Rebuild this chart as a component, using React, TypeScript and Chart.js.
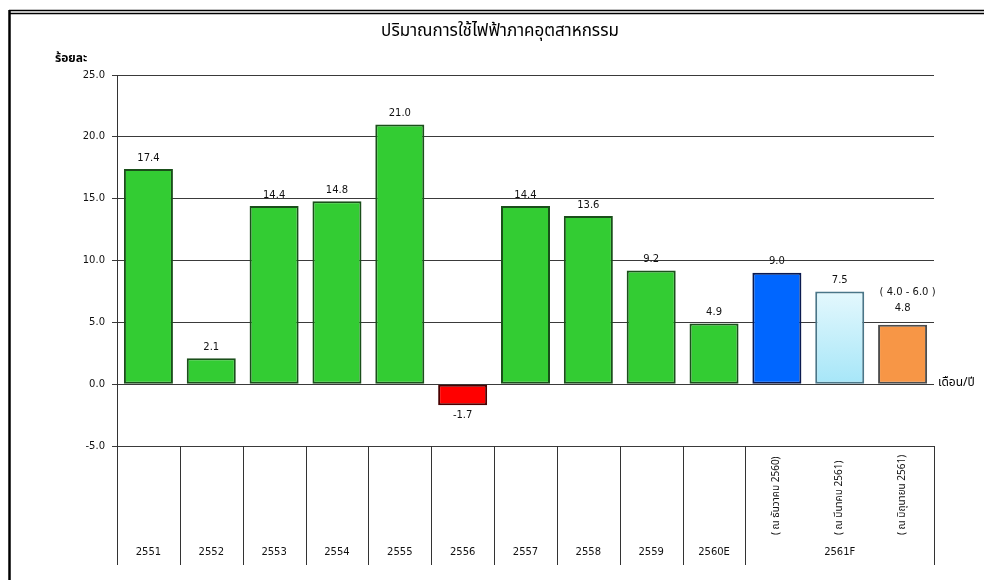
import React, { useEffect, useRef } from "react";
import { Chart, registerables } from "chart.js";

Chart.register(...registerables);

const titleText = "ปริมาณการใช้ไฟฟ้าภาคอุตสาหกรรม";
const yAxisTitle = "ร้อยละ";
const xAxisTitle = "เดือน/ปี";

const years = ["2551", "2552", "2553", "2554", "2555", "2556", "2557", "2558", "2559", "2560E", "2561F", "2561F", "2561F"];
const subLabels = ["", "", "", "", "", "", "", "", "", "", "( ณ ธันวาคม 2560)", "( ณ มีนาคม 2561)", "( ณ มิถุนายน 2561)"];
const values = [17.4, 2.1, 14.4, 14.8, 21.0, -1.7, 14.4, 13.6, 9.2, 4.9, 9.0, 7.5, 4.8];
const rangeNotes = ["", "", "", "", "", "", "", "", "", "", "", "", "( 4.0 - 6.0 )"];

const yMin = -5;
const yMax = 25;
const yStep = 5;

const GREEN = "#33CC33";
const fills = [GREEN, GREEN, GREEN, GREEN, GREEN, "#FF0000", GREEN, GREEN, GREEN, GREEN, "#0066FF", "cyanGradient", "#F79646"];
const GB = "#1a4f1a";
const borders = [GB, GB, GB, GB, GB, "#4a0000", GB, GB, GB, GB, "#0a1a50", "#4a7688", "#4d4d4d"];

const FONT = "'DejaVu Sans', Verdana, sans-serif";
const THAI_FONT = "Tahoma, 'Noto Sans Thai', 'Noto Sans', 'DejaVu Sans', sans-serif";

const decorPlugin = {
  id: "decor",
  afterDatasetsDraw(chart: any) {
    const ctx = chart.ctx;
    const meta = chart.getDatasetMeta(0);
    ctx.save();
    ctx.fillStyle = "#111";
    ctx.font = `10px ${FONT}`;
    ctx.textAlign = "center";
    ctx.textBaseline = "middle";
    meta.data.forEach((bar: any, i: number) => {
      const v = values[i];
      const txt = v.toFixed(1);
      if (v >= 0) {
        if (rangeNotes[i]) {
          ctx.fillText(txt, bar.x, bar.y - 16);
          ctx.fillText(rangeNotes[i], bar.x + 5, bar.y - 32);
        } else {
          ctx.fillText(txt, bar.x, bar.y - 11);
        }
      } else {
        ctx.fillText(txt, bar.x, bar.y + 10);
      }
    });
    ctx.restore();
  },
  afterDraw(chart: any) {
    const ctx = chart.ctx;
    const area = chart.chartArea;
    const xs = chart.scales.x;
    const n = years.length;
    const colW = (area.right - area.left) / n;
    const tableBottom = 565;
    ctx.save();

    // outer frame
    ctx.strokeStyle = "#000";
    ctx.lineWidth = 1.5;
    ctx.beginPath();
    ctx.moveTo(9, 10.5);
    ctx.lineTo(984, 10.5);
    ctx.moveTo(9, 13.5);
    ctx.lineTo(984, 13.5);
    ctx.stroke();
    ctx.lineWidth = 2.5;
    ctx.beginPath();
    ctx.moveTo(9.5, 10);
    ctx.lineTo(9.5, 580);
    ctx.stroke();

    // title
    ctx.fillStyle = "#000";
    ctx.font = `17px ${THAI_FONT}`;
    ctx.textAlign = "center";
    ctx.textBaseline = "middle";
    ctx.fillText(titleText, 500, 33);

    ctx.font = `bold 12px ${THAI_FONT}`;
    ctx.textAlign = "left";
    ctx.fillText(yAxisTitle, 55, 60);
    ctx.font = `12px ${THAI_FONT}`;
    ctx.fillText(xAxisTitle, 938, area.bottom - 62);

    // table lines
    ctx.strokeStyle = "#333";
    ctx.lineWidth = 1;
    ctx.beginPath();
    ctx.moveTo(Math.round(area.left) + 0.5, area.bottom);
    ctx.lineTo(Math.round(area.left) + 0.5, tableBottom);
    for (let i = 1; i <= n; i++) {
      if (i < n && years[i] === years[i - 1]) continue;
      const x = Math.round(xs.getPixelForValue(i - 1) + colW / 2) + 0.5;
      ctx.moveTo(x, area.bottom);
      ctx.lineTo(x, tableBottom);
    }
    ctx.stroke();

    // year labels (merged groups)
    ctx.fillStyle = "#111";
    ctx.font = `10px ${FONT}`;
    ctx.textAlign = "center";
    ctx.textBaseline = "middle";
    let start = 0;
    for (let i = 1; i <= n; i++) {
      if (i < n && years[i] === years[start]) continue;
      const x0 = xs.getPixelForValue(start) - colW / 2;
      const x1 = xs.getPixelForValue(i - 1) + colW / 2;
      ctx.fillText(years[start], (x0 + x1) / 2, 552);
      start = i;
    }

    // rotated sub labels
    ctx.font = `10px ${THAI_FONT}`;
    ctx.textAlign = "left";
    subLabels.forEach((s, i) => {
      if (!s) return;
      ctx.save();
      ctx.translate(xs.getPixelForValue(i), 535);
      ctx.rotate(-Math.PI / 2);
      ctx.fillText(s, 0, 0);
      ctx.restore();
    });

    ctx.restore();
  },
};

export default function App() {
  const ref = useRef<HTMLCanvasElement | null>(null);

  useEffect(() => {
    if (!ref.current) return;
    const chart = new Chart(ref.current, {
      type: "bar",
      data: {
        labels: years.map((y, i) => (subLabels[i] ? subLabels[i] : y)),
        datasets: [
          {
            data: values,
            backgroundColor: (c: any) => {
              const f = fills[c.dataIndex];
              if (f !== "cyanGradient") return f;
              const ys = c.chart.scales && c.chart.scales.y;
              if (!ys) return "#C8F0FB";
              const top = ys.getPixelForValue(values[c.dataIndex]);
              const bot = ys.getPixelForValue(0);
              const g = c.chart.ctx.createLinearGradient(0, top, 0, bot);
              g.addColorStop(0, "#E4F8FD");
              g.addColorStop(1, "#A6E6F8");
              return g;
            },
            borderColor: borders,
            borderWidth: 2,
            borderSkipped: false,
            barPercentage: 0.78,
            categoryPercentage: 1,
          },
        ],
      },
      options: {
        responsive: false,
        animation: false,
        layout: { padding: { left: 0, top: 75, right: 50, bottom: 134 } },
        plugins: { legend: { display: false }, tooltip: { enabled: false }, title: { display: false } },
        scales: {
          x: { display: false },
          y: {
            min: yMin,
            max: yMax,
            afterFit: (s: any) => {
              s.width = 117;
            },
            ticks: {
              stepSize: yStep,
              padding: 7,
              color: "#111",
              font: { family: FONT, size: 10 },
              callback: (v: any) => Number(v).toFixed(1),
            },
            grid: { color: "#3a3a3a", lineWidth: 1, tickLength: 5, drawTicks: true },
            border: { display: true, color: "#333", width: 1 },
          },
        },
      },
      plugins: [decorPlugin],
    });
    return () => chart.destroy();
  }, []);

  return (
    <div style={{ position: "absolute", left: 0, top: 0, width: 984, height: 580, background: "#fff" }}>
      <canvas ref={ref} width={984} height={580} style={{ display: "block" }} />
    </div>
  );
}
